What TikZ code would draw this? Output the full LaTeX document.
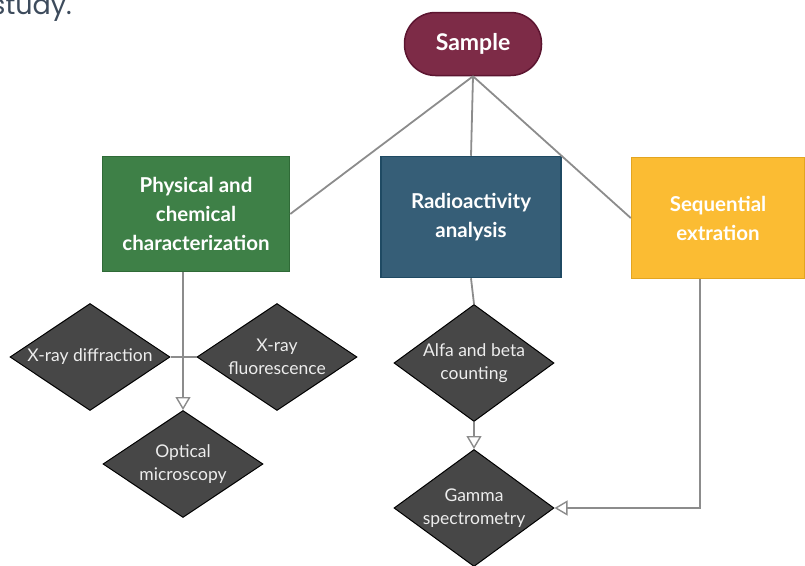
\documentclass[tikz,border=0pt]{standalone}
\usepackage{fontspec}
\setmainfont{Lato}
\newfontfamily\studyfont{Poppins}
\usetikzlibrary{shapes.geometric,arrows.meta}
\definecolor{smpfill}{HTML}{7D2B47}
\definecolor{smpdraw}{HTML}{5C1530}
\definecolor{grnfill}{HTML}{3E8047}
\definecolor{grndraw}{HTML}{2F6A37}
\definecolor{blufill}{HTML}{365E77}
\definecolor{bludraw}{HTML}{1F4A63}
\definecolor{yelfill}{HTML}{FBBC33}
\definecolor{yeldraw}{HTML}{E3A520}
\definecolor{dmdfill}{HTML}{474747}
\definecolor{linecol}{HTML}{8C8C8C}
\definecolor{captcol}{HTML}{3D4B5C}
\tikzset{
  boxnode/.style={rectangle, line width=1.5pt, text=white, align=center,
    font=\fontsize{20.5}{29}\selectfont\bfseries, inner sep=0pt},
  dmd/.style={diamond, draw=black, line width=1pt, fill=dmdfill,
    minimum width=160pt, minimum height=#1, inner sep=0pt},
  dmdtext/.style={text=white!93!black, align=center,
    font=\fontsize{17.5}{23}\selectfont},
  conn/.style={draw=linecol, line width=1.8pt},
  tip/.style={-{Triangle[length=13pt,width=15pt,fill=white,line width=1.4pt]}}
}
\begin{document}
\begin{tikzpicture}[x=1pt,y=-1pt]
\useasboundingbox (0,0) rectangle (805,565);
\clip (0,0) rectangle (805,565);
% caption fragment
\node[anchor=base east, text=captcol, font=\studyfont\fontsize{27}{30}\selectfont, inner sep=0pt] (study) at (72,14) {study.};
% top node
\node[rectangle, rounded corners=31pt, draw=smpdraw, fill=smpfill, line width=1.5pt,
  minimum width=137pt, minimum height=63pt, text=white,
  font=\fontsize{23}{26}\selectfont\bfseries] (sample) at (473,44) {Sample};
% boxes
\node[boxnode, draw=grndraw, fill=grnfill, minimum width=187pt, minimum height=115pt] (phys) at (196,214)
  {Physical and\\chemical\\characterization};
\node[boxnode, draw=bludraw, fill=blufill, minimum width=180pt, minimum height=121pt] (radio) at (471,217)
  {Radioactivity\\analysis};
\node[boxnode, draw=yeldraw, fill=yelfill, minimum width=173pt, minimum height=121pt] (seq) at (718,218)
  {Sequential\\extration};
% diamonds
\node[dmd=107pt] (xrd) at (90,357) {};
\node[dmdtext] at (xrd.center) {X-ray diffraction};
\node[dmd=107pt] (xrf) at (277,357) {};
\node[dmdtext] at (xrf.center) {X-ray\\fluorescence};
\node[dmd=107pt] (opt) at (183,464) {};
\node[dmdtext] at (opt.center) {Optical\\microscopy};
\node[dmd=117pt] (alfa) at (474,363) {};
\node[dmdtext] at (alfa.center) {Alfa and beta\\counting};
\node[dmd=117pt] (gamma) at (474,508) {};
\node[dmdtext] at (gamma.center) {Gamma\\spectrometry};
% connectors
\draw[conn] (sample.south) -- (phys.east);
\draw[conn] (sample.south) -- (radio.north);
\draw[conn] (sample.south) -- (seq.west);
\draw[conn] (xrd.east) -- (xrf.west);
\draw[conn, tip] (opt.north |- phys.south) -- (opt.north);
\draw[conn] (radio.south) -- (alfa.north);
\draw[conn, tip] (alfa.south) -- (gamma.north);
\draw[conn, tip] ([xshift=-18pt]seq.south) |- (gamma.east);
\end{tikzpicture}
\end{document}
